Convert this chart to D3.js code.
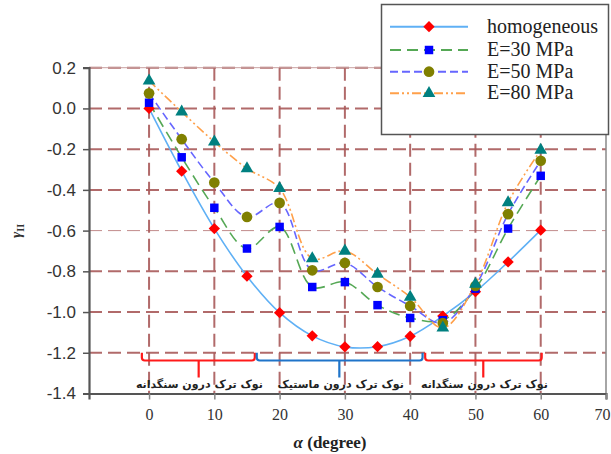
<!DOCTYPE html>
<html><head><meta charset="utf-8">
<script src="https://cdn.jsdelivr.net/npm/d3@7"></script>
<style>body{margin:0;background:#fff;}svg{display:block;}</style>
</head><body>
<svg id="c" width="611" height="454"></svg>
<script>
const angles = [0,5,10,15,20,25,30,35,40,45,50,55,60];
const homogeneous = [0.0,-0.308,-0.59,-0.824,-1.003,-1.117,-1.171,-1.17,-1.119,-1.02,-0.90,-0.754,-0.598];
const e30 = [0.028,-0.24,-0.488,-0.688,-0.582,-0.877,-0.853,-0.966,-1.029,-1.04,-0.885,-0.59,-0.331];
const e50 = [0.074,-0.151,-0.364,-0.533,-0.464,-0.795,-0.759,-0.877,-0.97,-1.054,-0.872,-0.519,-0.257];
const e80 = [0.136,-0.017,-0.164,-0.295,-0.393,-0.737,-0.70,-0.814,-0.926,-1.078,-0.863,-0.462,-0.205];
const seriesNames = ["homogeneous","E=30 MPa","E=50 MPa","E=80 MPa"];
const xTicks = [0,10,20,30,40,50,60,70];
const yTicks = [0.2,0.0,-0.2,-0.4,-0.6,-0.8,-1.0,-1.2,-1.4];
const zones = [
  {label:"نوک ترک درون سنگدانه", from:-1.1, to:16.2, mid:7.6, color:"#ff1a1a"},
  {label:"نوک ترک درون ماستیک", from:16.5, to:41.9, mid:29.15, color:"#1f74c9"},
  {label:"نوک ترک درون سنگدانه", from:42.3, to:60.15, mid:51.2, color:"#ff1a1a"}
];

const svg = d3.select("#c");
const x = d3.scaleLinear().domain([-9.2,70]).range([89,606]);
const y = d3.scaleLinear().domain([-1.4,0.2]).range([393.5,67.7]);

const gridColor = "#a85a5a";
const g = svg.append("g");
g.selectAll(".hg").data(yTicks.filter(v=>v>-1.39)).enter().append("line")
  .attr("x1",x(-9.2)).attr("x2",x(70)).attr("y1",d=>y(d)).attr("y2",d=>y(d))
  .attr("stroke",gridColor).attr("stroke-width",d=>Math.abs(d+0.6)<1e-6?1:2)
  .attr("stroke-opacity",d=>Math.abs(d+0.6)<1e-6?0.7:0.9)
  .attr("stroke-dasharray","13,6");
g.selectAll(".vg").data(xTicks.filter(v=>v<70)).enter().append("line")
  .attr("x1",d=>x(d)).attr("x2",d=>x(d)).attr("y1",y(0.2)).attr("y2",y(-1.4))
  .attr("stroke",gridColor).attr("stroke-width",2).attr("stroke-opacity",0.9)
  .attr("stroke-dasharray","13,6");

svg.append("line").attr("x1",x(70)).attr("x2",x(70)).attr("y1",y(0.2)).attr("y2",y(-1.4))
  .attr("stroke","#888").attr("stroke-width",1.5);
svg.append("line").attr("x1",x(-9.2)).attr("x2",x(70)).attr("y1",y(0.2)).attr("y2",y(0.2))
  .attr("stroke","#c8a0a0").attr("stroke-width",1);

const yAxis = d3.axisLeft(y).tickValues(yTicks).tickSize(6).tickFormat(d3.format(".1f"));
const ya = svg.append("g").attr("transform",`translate(${x(-9.2)},0)`).call(yAxis);
ya.select(".domain").attr("stroke","#555").attr("stroke-width",2.2);
ya.selectAll(".tick line").attr("stroke","#555").attr("stroke-width",1.5);
ya.selectAll(".tick text").attr("font-family","Liberation Sans, Arial, sans-serif")
  .attr("font-size",17).attr("fill","#333").attr("x",-13)
  .text(d=>d3.format(".1f")(d).replace("−","-"));

const xAxis = d3.axisBottom(x).tickValues(xTicks).tickSize(6).tickFormat(d3.format("d"));
const xa = svg.append("g").attr("transform",`translate(0,${y(-1.4)})`).call(xAxis);
xa.select(".domain").attr("stroke","#555").attr("stroke-width",2.2);
xa.selectAll(".tick line").attr("stroke","#888").attr("stroke-width",1.5);
xa.selectAll(".tick text").attr("font-family","Liberation Serif, Times New Roman, serif")
  .attr("font-size",16).attr("fill","#333").attr("y",15)
  .attr("dx",d=>d===70?-4:0);

const xl = svg.append("text").attr("x",330).attr("y",448).attr("text-anchor","middle")
  .attr("font-family","Liberation Serif, serif").attr("font-weight","bold").attr("font-size",17).attr("fill","#222");
xl.append("tspan").attr("font-style","italic").text("α");
xl.append("tspan").text(" (degree)");
const yl = svg.append("text").attr("transform","translate(21,231) rotate(-90)").attr("text-anchor","middle")
  .attr("font-family","Liberation Serif, serif").attr("font-weight","bold").attr("font-size",15).attr("fill","#333");
yl.append("tspan").attr("font-style","italic").text("γ");
yl.append("tspan").attr("font-size",10).attr("dy",3).text("II");

const yTop = -1.2, yMid = -1.238, yEnd = -1.322;
zones.forEach(z=>{
  const r = 3;
  const path = `M${x(z.from)},${y(yTop)} L${x(z.from)},${y(yMid)-r} Q${x(z.from)},${y(yMid)} ${x(z.from)+r},${y(yMid)}`+
    ` L${x(z.to)-r},${y(yMid)} Q${x(z.to)},${y(yMid)} ${x(z.to)},${y(yMid)-r} L${x(z.to)},${y(yTop)}`+
    ` M${x(z.mid)},${y(yMid)} L${x(z.mid)},${y(yEnd)}`;
  svg.append("path").attr("d",path).attr("fill","none").attr("stroke",z.color).attr("stroke-width",2.2);
  svg.append("text").attr("x",(x(z.from)+x(z.to))/2 + 1).attr("y",388).attr("text-anchor","middle")
    .attr("font-family","DejaVu Sans, sans-serif").attr("font-weight","bold").attr("font-size",11)
    .attr("fill","#222").attr("direction","rtl").text(z.label);
});

const styles = [
  {data:homogeneous, line:"#5fb0f5", dash:null, w:1.6, marker:"diamond", fill:"#ff0000", size:64},
  {data:e30, line:"#55a855", dash:"11,6", w:1.6, marker:"square", fill:"#0000ff", size:72},
  {data:e50, line:"#6666ff", dash:"8,4", w:1.6, marker:"circle", fill:"#808000", size:90},
  {data:e80, line:"#ffa04a", dash:"9,3,2,3,2,3", w:1.6, marker:"triangle", fill:"#008080", size:70}
];
const symMap = {diamond:d3.symbolSquare, square:d3.symbolSquare, circle:d3.symbolCircle, triangle:d3.symbolTriangle};
const rot = m => m==="diamond" ? " rotate(45)" : "";
const line = d3.line().x((d,i)=>x(angles[i])).y(d=>y(d)).curve(d3.curveCatmullRom.alpha(0.5));
styles.forEach(s=>{
  svg.append("path").attr("d",line(s.data)).attr("fill","none").attr("stroke",s.line)
    .attr("stroke-width",s.w).attr("stroke-dasharray",s.dash);
});
styles.forEach(s=>{
  svg.append("g").selectAll("path").data(s.data).enter().append("path")
    .attr("d",d3.symbol().type(symMap[s.marker]).size(s.size))
    .attr("transform",(d,i)=>`translate(${x(angles[i])},${y(d)})${rot(s.marker)}`)
    .attr("fill",s.fill);
});

const lg = svg.append("g");
lg.append("rect").attr("x",381.5).attr("y",4.5).attr("width",227).attr("height",130)
  .attr("fill","#fff").attr("stroke","#555").attr("stroke-width",1.5);
const rowY = [26.7,50,71.7,93.3];
styles.forEach((s,i)=>{
  lg.append("line").attr("x1",390).attr("x2",468).attr("y1",rowY[i]).attr("y2",rowY[i])
    .attr("stroke",s.line).attr("stroke-width",2).attr("stroke-dasharray",s.dash);
  lg.append("path").attr("d",d3.symbol().type(symMap[s.marker]).size(s.size))
    .attr("transform",`translate(429,${rowY[i]})${rot(s.marker)}`).attr("fill",s.fill);
  lg.append("text").attr("x",487).attr("y",rowY[i]+6).attr("font-family","Liberation Serif, Times New Roman, serif")
    .attr("font-size",20).attr("fill","#222").text(seriesNames[i]);
});
</script>
</body></html>
